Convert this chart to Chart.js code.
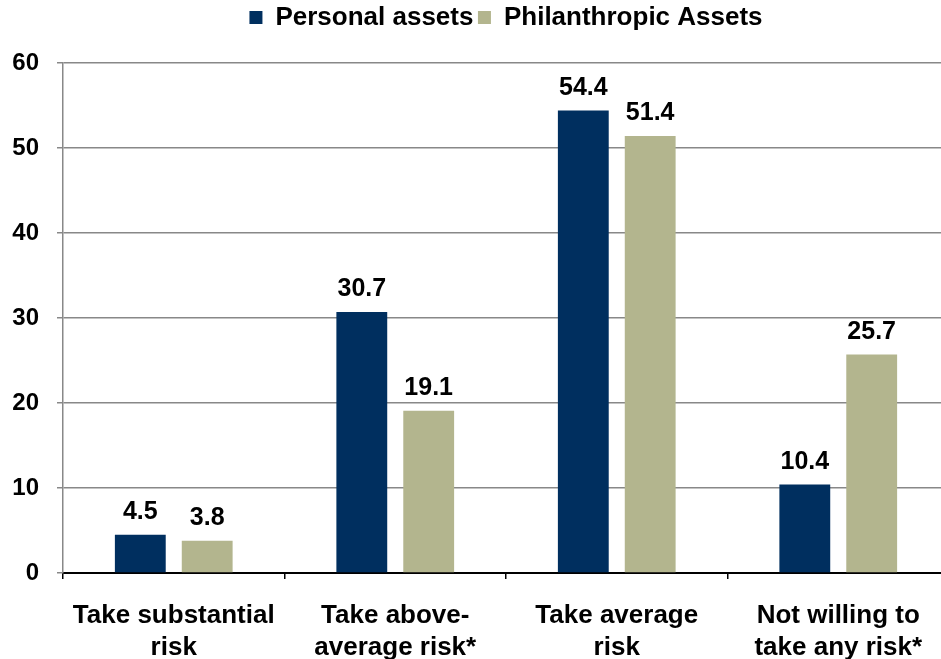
<!DOCTYPE html>
<html lang="en">
<head>
    <meta charset="UTF-8">
    <title>Risk tolerance</title>
    <script src="https://cdn.jsdelivr.net/npm/chart.js"></script>
    <style>
        html, body {
            margin: 0;
            padding: 0;
            background: #fff;
            overflow: hidden;
        }
        #wrap {
            width: 952px;
            height: 659px;
        }
    </style>
</head>
<body>
<div id="wrap">
    <canvas id="riskChart" width="952" height="659"></canvas>
</div>

<script>
// chart data
const categories = [
    ['Take substantial', 'risk'],
    ['Take above-', 'average risk*'],
    ['Take average', 'risk'],
    ['Not willing to', 'take any risk*']
];
const personalAssets = [4.5, 30.7, 54.4, 10.4];
const philanthropicAssets = [3.8, 19.1, 51.4, 25.7];
const seriesNames = ['Personal assets', 'Philanthropic Assets'];
const seriesColors = ['#002f5f', '#b3b58e'];
const yTicks = [0, 10, 20, 30, 40, 50, 60];

const fontFamily = '"Liberation Sans", Arial, sans-serif';

// value labels above each bar
const barValueLabels = {
    id: 'barValueLabels',
    afterDatasetsDraw(chart) {
        const ctx = chart.ctx;
        ctx.save();
        ctx.font = 'bold 25px ' + fontFamily;
        ctx.fillStyle = '#000';
        ctx.textAlign = 'center';
        ctx.textBaseline = 'alphabetic';
        chart.data.datasets.forEach((ds, i) => {
            chart.getDatasetMeta(i).data.forEach((bar, j) => {
                ctx.fillText(ds.data[j].toFixed(1), bar.x, bar.y - 16);
            });
        });
        ctx.restore();
    }
};

new Chart(document.getElementById('riskChart').getContext('2d'), {
    type: 'bar',
    data: {
        labels: categories,
        datasets: [
            {
                label: seriesNames[0],
                data: personalAssets,
                backgroundColor: seriesColors[0]
            },
            {
                label: seriesNames[1],
                data: philanthropicAssets,
                backgroundColor: seriesColors[1]
            }
        ]
    },
    options: {
        responsive: false,
        animation: false,
        categoryPercentage: 0.604,
        barPercentage: 0.76,
        layout: {
            padding: { top: 0, left: 0, right: 3, bottom: 0 }
        },
        plugins: {
            legend: {
                position: 'top',
                fullSize: false,
                labels: {
                    boxWidth: 13,
                    boxHeight: 13,
                    padding: 4.5,
                    color: '#000',
                    font: { family: fontFamily, size: 26, weight: 'bold' }
                }
            },
            tooltip: { enabled: false }
        },
        scales: {
            x: {
                grid: {
                    offset: true,
                    drawOnChartArea: false,
                    tickLength: 6,
                    color: '#000',
                    lineWidth: 1.5
                },
                border: { color: '#000', width: 2 },
                ticks: {
                    color: '#000',
                    padding: 21,
                    maxRotation: 0,
                    font: { family: fontFamily, size: 26, weight: 'bold', lineHeight: 1.23 }
                },
                afterFit(scale) { scale.height = 86; }
            },
            // empty band between legend and plot
            gap: {
                type: 'category',
                position: 'top',
                grid: { display: false },
                border: { display: false },
                ticks: { display: false },
                afterFit(scale) { scale.height = 22.5; }
            },
            y: {
                min: 0,
                max: 60,
                afterBuildTicks(scale) {
                    scale.ticks = yTicks.map(v => ({ value: v }));
                },
                grid: {
                    tickLength: 6,
                    color: '#888',
                    lineWidth: 1.5
                },
                border: { color: '#888', width: 1.5 },
                ticks: {
                    color: '#000',
                    padding: 18,
                    font: { family: fontFamily, size: 24, weight: 'bold' }
                },
                afterFit(scale) { scale.width = 63; }
            }
        }
    },
    plugins: [barValueLabels]
});
</script>
</body>
</html>
